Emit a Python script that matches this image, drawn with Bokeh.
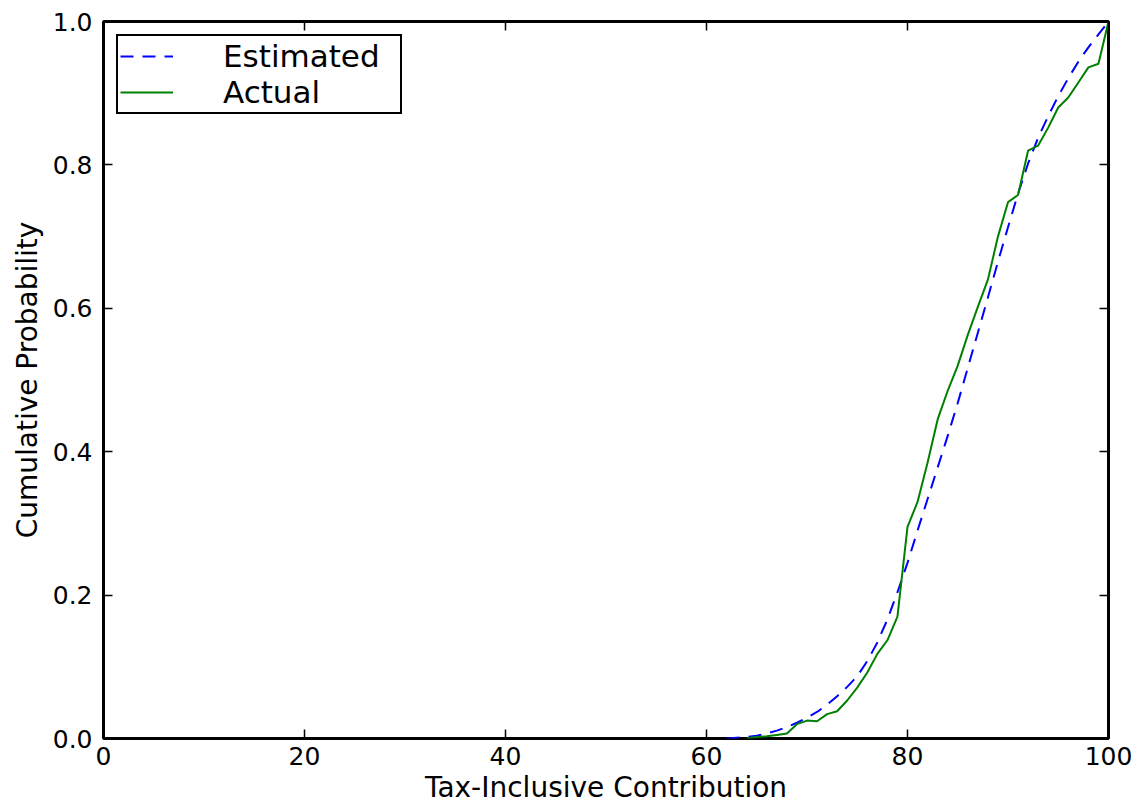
from bokeh.plotting import figure
from bokeh.models import LinearAxis, Range1d, FixedTicker, Legend, LegendItem, CustomJSTickFormatter
from bokeh.embed import file_html
from bokeh.resources import INLINE

# ---- data ----
est_x = [62, 63, 64, 65, 66, 67, 68, 69, 70, 71, 72, 73, 74, 75, 76, 77, 78, 79, 80,
         81, 82, 83, 84, 85, 86, 87, 88, 89, 90, 91, 92, 93, 94, 95, 96, 97, 98, 99, 100]
est_y = [0.000, 0.001, 0.002, 0.004, 0.007, 0.011, 0.016, 0.022, 0.029, 0.037, 0.047,
         0.059, 0.072, 0.087, 0.108, 0.134, 0.166, 0.204, 0.245, 0.290, 0.334, 0.378,
         0.422, 0.468, 0.517, 0.566, 0.615, 0.665, 0.713, 0.760, 0.802, 0.838, 0.868,
         0.896, 0.921, 0.944, 0.964, 0.982, 1.000]

act_x = [64, 65, 66, 67, 68, 69, 70, 71, 72, 73, 74, 75, 76, 77, 78, 79, 80, 81, 82,
         83, 84, 85, 86, 87, 88, 89, 90, 91, 92, 93, 94, 95, 96, 97, 98, 99, 100]
act_y = [0.000, 0.002, 0.003, 0.005, 0.007, 0.020, 0.025, 0.024, 0.034, 0.038, 0.053,
         0.071, 0.092, 0.118, 0.137, 0.170, 0.295, 0.330, 0.385, 0.445, 0.485, 0.520,
         0.563, 0.602, 0.640, 0.700, 0.748, 0.758, 0.820, 0.827, 0.852, 0.880, 0.894,
         0.915, 0.936, 0.941, 1.000]

x_ticks = [0, 20, 40, 60, 80, 100]
y_ticks = [0.0, 0.2, 0.4, 0.6, 0.8, 1.0]
x_label = "Tax-Inclusive Contribution"
y_label = "Cumulative Probability"
series_names = ["Estimated", "Actual"]

FONT = "DejaVu Sans"
TICK_SIZE = "25px"
LABEL_SIZE = "28px"

p = figure(width=1135, height=808, output_backend="svg", toolbar_location=None,
           x_range=Range1d(0, 100), y_range=Range1d(0, 1),
           min_border_left=103, min_border_top=21, min_border_right=27, min_border_bottom=70,
           x_axis_label=x_label, y_axis_label=y_label)
p.xgrid.visible = False
p.ygrid.visible = False
p.outline_line_color = "black"
p.outline_line_width = 3
p.background_fill_color = "white"
p.border_fill_color = "white"

r_est = p.line(est_x, est_y, line_color="#0000ff", line_width=2, line_dash="13 9")
r_act = p.line(act_x, act_y, line_color="#008000", line_width=2)

def style_axis(ax, show_labels=True):
    ax.axis_line_color = None
    ax.major_tick_in = 9
    ax.major_tick_out = 0
    ax.minor_tick_in = 0
    ax.minor_tick_out = 0
    ax.major_tick_line_color = "black"
    ax.major_tick_line_width = 1.5
    ax.major_label_text_font = FONT
    ax.major_label_text_font_size = TICK_SIZE
    ax.major_label_text_color = "black"
    ax.axis_label_text_font = FONT
    ax.axis_label_text_font_size = LABEL_SIZE
    ax.axis_label_text_font_style = "normal"
    ax.axis_label_text_color = "black"
    if not show_labels:
        ax.major_label_text_font_size = "0px"
        ax.major_label_standoff = 0
        ax.formatter = CustomJSTickFormatter(code="return ''")

xa = p.xaxis[0]
ya = p.yaxis[0]
xa.ticker = FixedTicker(ticks=x_ticks)
ya.ticker = FixedTicker(ticks=y_ticks)
style_axis(xa)
style_axis(ya)
ya.formatter = CustomJSTickFormatter(code="return tick.toFixed(1)")
xa.major_label_standoff = 8
ya.major_label_standoff = 11
xa.axis_label_standoff = 3
ya.axis_label_standoff = 6

top = LinearAxis(ticker=FixedTicker(ticks=x_ticks))
style_axis(top, show_labels=False)
p.add_layout(top, "above")
right = LinearAxis(ticker=FixedTicker(ticks=y_ticks))
style_axis(right, show_labels=False)
p.add_layout(right, "right")

legend = Legend(items=[LegendItem(label=series_names[0], renderers=[r_est]),
                       LegendItem(label=series_names[1], renderers=[r_act])],
                location="top_left")
legend.margin = 13
legend.padding = 2
legend.spacing = 0
legend.glyph_width = 53
legend.glyph_height = 30
legend.label_standoff = 50
legend.label_width = 175
legend.label_text_font = FONT
legend.label_text_font_size = "31px"
legend.label_text_color = "black"
legend.border_line_color = "black"
legend.border_line_alpha = 1
legend.border_line_width = 2.5
legend.background_fill_alpha = 1
p.add_layout(legend)

open("out.html", "w").write(file_html(p, INLINE))
